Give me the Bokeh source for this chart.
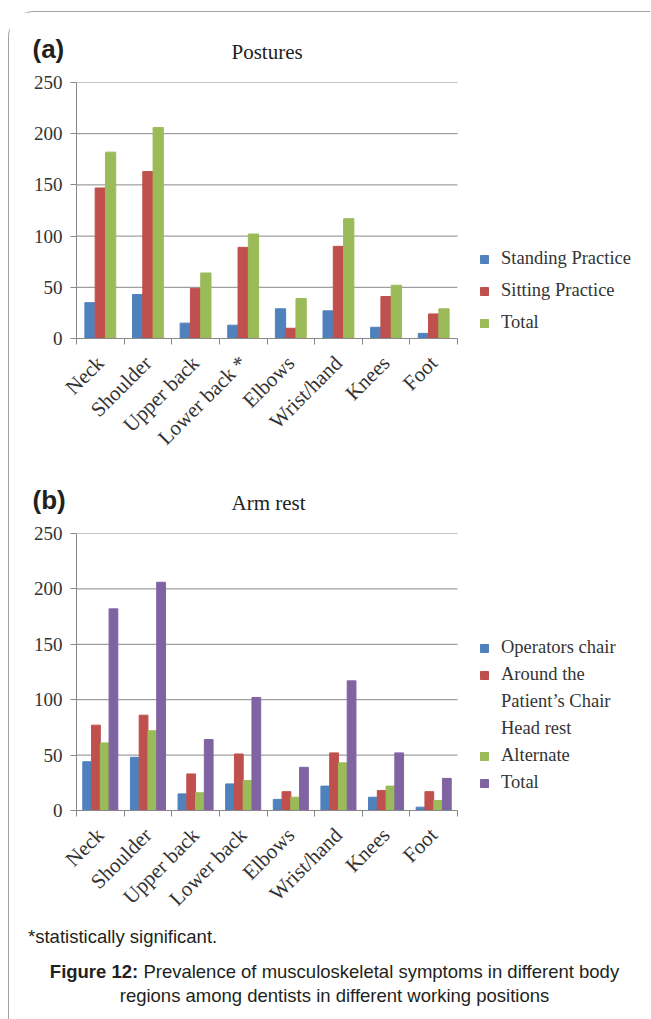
import numpy as np
from bokeh.plotting import figure
from bokeh.models import (Range1d, FixedTicker, Legend, LegendItem, Title, ColumnDataSource, Div)
from bokeh.transform import dodge
from bokeh.layouts import column
from bokeh.embed import file_html
from bokeh.resources import INLINE

# ---------------- data ----------------
regions_a = ["Neck", "Shoulder", "Upper back", "Lower back *", "Elbows", "Wrist/hand", "Knees", "Foot"]
regions_b = ["Neck", "Shoulder", "Upper back", "Lower back", "Elbows", "Wrist/hand", "Knees", "Foot"]

standing = [35, 43, 15, 13, 29, 27, 11, 5]
sitting = [147, 163, 49, 89, 10, 90, 41, 24]
total_a = [182, 206, 64, 102, 39, 117, 52, 29]

operators_chair = [44, 48, 15, 24, 10, 22, 12, 3]
patients_chair = [77, 86, 33, 51, 17, 52, 18, 17]
alternate = [61, 72, 16, 27, 12, 43, 22, 9]
total_b = [182, 206, 64, 102, 39, 117, 52, 29]

y_ticks = [0, 50, 100, 150, 200, 250]

BLUE, RED, GREEN, PURPLE = "#4F81BD", "#C0504D", "#9BBB59", "#8064A2"
GRID = "#888888"
SERIF = "Liberation Serif"
SANS = "Liberation Sans"
W = 641          # figure width
LEFT = 67        # space for the y axis
CHART_W = 381    # width of the bar area
FRAME_W = W - LEFT


def base_chart(title, tag, cats, height, top_border, bottom_border):
    n = len(cats)
    p = figure(width=W, height=height, output_backend="svg", toolbar_location=None, title=None,
               x_range=Range1d(0, n * FRAME_W / CHART_W), y_range=Range1d(0, 250),
               min_border_left=LEFT, min_border_right=0,
               min_border_top=top_border, min_border_bottom=bottom_border)
    p.outline_line_color = None
    p.add_layout(Title(text=title, align="left", offset=155, text_font=SERIF,
                       text_font_style="normal", text_font_size="21px",
                       text_color="#222222", standoff=37), "above")
    p.add_layout(Title(text=tag, align="left", offset=-44, text_font=SANS, text_font_style="bold",
                       text_font_size="26px", text_color="#231f20", standoff=-88), "above")
    p.xgrid.grid_line_color = None
    p.ygrid.grid_line_color = None
    # horizontal grid lines limited to the bar area
    p.segment(x0=[0] * len(y_ticks), x1=[n] * len(y_ticks), y0=y_ticks, y1=y_ticks,
              line_color=GRID, line_width=1)

    centers = [i + 0.5 for i in range(n)]
    p.xaxis.ticker = FixedTicker(ticks=centers, minor_ticks=list(range(n + 1)))
    p.xaxis.major_label_overrides = {c: lab for c, lab in zip(centers, cats)}
    p.xaxis.bounds = (0, n)
    p.xaxis.major_tick_line_color = None
    p.xaxis.major_tick_out = 0
    p.xaxis.minor_tick_line_color = GRID
    p.xaxis.minor_tick_out = 6
    p.xaxis.minor_tick_in = 0
    p.xaxis.major_label_orientation = np.pi / 4
    p.xaxis.major_label_standoff = 15
    p.xaxis.major_label_text_font_size = "21px"

    p.yaxis.ticker = FixedTicker(ticks=y_ticks)
    p.yaxis.major_tick_out = 6
    p.yaxis.major_tick_in = 0
    p.yaxis.major_tick_line_color = GRID
    p.yaxis.minor_tick_line_color = None
    p.yaxis.major_label_standoff = 8
    p.yaxis.major_label_text_font_size = "19px"

    for ax in (p.xaxis, p.yaxis):
        ax.axis_line_color = GRID
        ax.major_label_text_font = SERIF
        ax.major_label_text_color = "#333333"
    return p


def make_legend(items, loc, spacing):
    return Legend(items=items, location=loc, padding=0, margin=0, spacing=spacing,
                  glyph_width=10, glyph_height=10, label_standoff=12, label_height=20,
                  label_text_font=SERIF, label_text_font_size="18.5px", label_text_color="#333333",
                  border_line_color=None, background_fill_alpha=0)


# ---------------- chart (a) ----------------
src_a = ColumnDataSource(dict(x=[i + 0.5 for i in range(len(regions_a))], region=regions_a,
                              standing=standing, sitting=sitting, total=total_a))
pa = base_chart("Postures", "(a)", regions_a, 457, 70, 131)
bw = 0.216
ra1 = pa.vbar(x=dodge("x", -bw, range=pa.x_range), top="standing", width=bw, source=src_a, color=BLUE)
ra2 = pa.vbar(x=dodge("x", 0, range=pa.x_range), top="sitting", width=bw, source=src_a, color=RED)
ra3 = pa.vbar(x=dodge("x", bw, range=pa.x_range), top="total", width=bw, source=src_a, color=GREEN)

pa.add_layout(make_legend([LegendItem(label="Standing Practice", renderers=[ra1]),
                           LegendItem(label="Sitting Practice", renderers=[ra2]),
                           LegendItem(label="Total", renderers=[ra3])], (403, 5), 11))

# ---------------- chart (b) ----------------
src_b = ColumnDataSource(dict(x=[i + 0.5 for i in range(len(regions_b))], region=regions_b,
                              oc=operators_chair, pc=patients_chair, alt=alternate, total=total_b))
pb = base_chart("Arm rest", "(b)", regions_b, 456, 64, 115)
bw2 = 0.184
rb1 = pb.vbar(x=dodge("x", -1.5 * bw2, range=pb.x_range), top="oc", width=bw2, source=src_b, color=BLUE)
rb2 = pb.vbar(x=dodge("x", -0.5 * bw2, range=pb.x_range), top="pc", width=bw2, source=src_b, color=RED)
rb3 = pb.vbar(x=dodge("x", 0.5 * bw2, range=pb.x_range), top="alt", width=bw2, source=src_b, color=GREEN)
rb4 = pb.vbar(x=dodge("x", 1.5 * bw2, range=pb.x_range), top="total", width=bw2, source=src_b, color=PURPLE)
blank = pb.vbar(x=[], top=[], width=0.1, fill_alpha=0, line_alpha=0)  # for wrapped legend lines

pb.add_layout(make_legend([LegendItem(label="Operators chair", renderers=[rb1]),
                           LegendItem(label="Around the", renderers=[rb2]),
                           LegendItem(label="Patient\u2019s Chair", renderers=[blank]),
                           LegendItem(label="Head rest", renderers=[blank]),
                           LegendItem(label="Alternate", renderers=[rb3]),
                           LegendItem(label="Total", renderers=[rb4])], (403, 17), 6))

# ---------------- caption ----------------
caption_html = (
    "<div style=\"font-family:'Liberation Sans',Arial,sans-serif;font-size:18.5px;color:#231f20;"
    "line-height:24px;width:632px;\">"
    "<div style='padding:0 0 0 19px;'>*statistically significant.</div>"
    "<div style='margin-top:11px;padding-left:19px;text-align:center;'>"
    "<b>Figure 12:</b> Prevalence of musculoskeletal symptoms in different body<br>"
    "regions among dentists in different working positions</div></div>"
)
cap = Div(text=caption_html, width=W, height=94, margin=0)

layout = column(pa, pb, cap, margin=(11, 0, 0, 8),
                styles={"border-top": "1px solid #a0a0a0",
                        "border-left": "1px solid #a0a0a0",
                        "border-top-left-radius": "26px"})

open("out.html", "w").write(file_html(layout, INLINE))
